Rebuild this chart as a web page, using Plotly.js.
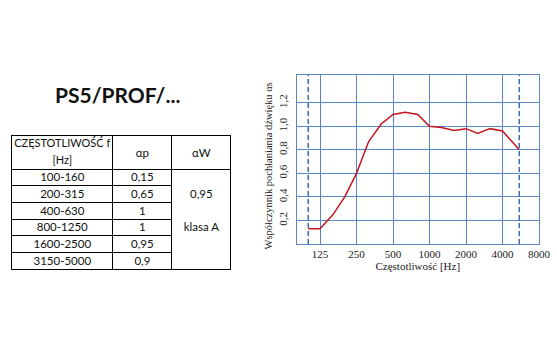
<!DOCTYPE html>
<html>
<head>
<meta charset="utf-8">
<script src="https://cdn.plot.ly/plotly-3.0.1.min.js"></script>
<style>html,body{margin:0;padding:0;background:#fff;}#chart{width:557px;height:352px;}</style>
</head>
<body>
<div id="chart"></div>
<script>
// ---- data ----
const productName = 'PS5/PROF/...';
const bandLabels = ['100-160', '200-315', '400-630', '800-1250', '1600-2500', '3150-5000'];
const alphaP = ['0,15', '0,65', '1', '1', '0,95', '0,9'];
const alphaWColumn = ['', '0,95', '', 'klasa\u00a0A', '', ''];
const headerFreq = ['CZĘSTOTLIWOŚĆ\u00a0f', '[Hz]'];
const headerAlphaP = 'αp';
const headerAlphaW = 'αW';

const freqHz = [100, 125, 160, 200, 250, 315, 400, 500, 630, 800, 1000, 1250, 1600, 2000, 2500, 3150, 4000, 5500];
const absorption = [0.13, 0.13, 0.25, 0.40, 0.60, 0.87, 1.02, 1.10, 1.12, 1.10, 1.00, 0.99, 0.965, 0.98, 0.94, 0.98, 0.96, 0.80];
const xTickVals = [125, 250, 500, 1000, 2000, 4000, 8000];
const xTickText = ['125', '250', '500', '1000', '2000', '4000', '8000'];
const yTickVals = [0.2, 0.4, 0.6, 0.8, 1.0, 1.2];
const yTickText = ['0,2', '0,4', '0,6', '0,8', '1,0', '1,2'];
const measurementLimits = [100, 5500];
const xTitle = 'Częstotliwość [Hz]';
const yTitle = 'Współczynnik pochłaniania dźwięku αs';

// ---- styling ----
const W = 557, H = 352;
const gridBlue = '#5b87c6';
const serif = 'Liberation Serif, Times New Roman, serif';
const sans = 'Lato, Open Sans, sans-serif';
const tableTop = 135, headerH = 34, rowH = 100 / bandLabels.length;
const tableX = [11.7 / W, 231.7 / W];
const dom = (shift) => ({x: tableX, y: [1 - 285 / H, 1 - (tableTop + shift) / H]});
const colW = [101.6, 59.4, 59];
const transparent = 'rgba(0,0,0,0)';
const black = '#000';
const emptyCols = (n) => [Array(n).fill(''), Array(n).fill(''), Array(n).fill('')];
const textFont = {family: sans, size: 11.5, color: '#111'};

// outer frame + column separators + header rule (alphaW column drawn as one merged cell)
const frameTable = {
  type: 'table', domain: dom(0), columnwidth: colW,
  header: {values: emptyCols(1), height: headerH, line: {color: black, width: 1}, fill: {color: '#fff'}},
  cells: {values: emptyCols(1), height: rowH * bandLabels.length, line: {color: black, width: 1}, fill: {color: '#fff'}}
};

// row rules for the first two columns only
const rowRuleTable = {
  type: 'table', domain: dom(0), columnwidth: colW,
  header: {values: emptyCols(1), height: headerH, line: {color: transparent, width: 1}, fill: {color: transparent}},
  cells: {values: emptyCols(bandLabels.length), height: rowH,
    line: {color: [black, black, transparent], width: 1}, fill: {color: transparent}}
};

// body text and two-line frequency header
const bodyTextTable = {
  type: 'table', domain: dom(-4.2), columnwidth: colW,
  header: {values: [headerFreq, ['', ''], ['', '']], height: headerH / 2, align: 'center',
    line: {color: transparent, width: 1}, fill: {color: transparent},
    font: {family: sans, size: 11, color: '#111'}},
  cells: {values: [bandLabels, alphaP, alphaWColumn], height: rowH, align: 'center',
    line: {color: transparent, width: 1}, fill: {color: transparent}, font: textFont}
};

// alpha headers, vertically centred in the tall header row
const alphaHeaderTable = {
  type: 'table', domain: dom(5), columnwidth: colW,
  header: {values: [[''], [headerAlphaP], [headerAlphaW]], height: headerH, align: 'center',
    line: {color: transparent, width: 1}, fill: {color: transparent}, font: textFont},
  cells: {values: emptyCols(1), height: 10, line: {color: transparent, width: 1}, fill: {color: transparent}}
};

const curve = {
  type: 'scatter', mode: 'lines',
  x: freqHz, y: absorption,
  line: {color: '#c3161f', width: 1.5},
  showlegend: false
};

const limitShapes = measurementLimits.map(f => ({
  type: 'line', xref: 'x', yref: 'y domain',
  x0: f, x1: f, y0: 0, y1: 1,
  line: {color: '#3a6ab3', width: 1.5, dash: '5px,3px'}
}));

const layout = {
  width: W, height: H,
  margin: {l: 0, r: 0, t: 0, b: 0},
  paper_bgcolor: '#fff', plot_bgcolor: '#fff',
  showlegend: false,
  xaxis: {
    type: 'log',
    domain: [296.5 / W, 539 / W],
    range: [Math.log10(80), Math.log10(8000)],
    tickvals: xTickVals, ticktext: xTickText,
    ticks: '',
    showgrid: true, gridcolor: gridBlue, gridwidth: 1,
    showline: true, linecolor: gridBlue, linewidth: 1, mirror: true,
    zeroline: false,
    tickfont: {family: serif, size: 11, color: '#222'},
    title: {text: xTitle, font: {family: serif, size: 11, color: '#222'}, standoff: 2}
  },
  yaxis: {
    domain: [1 - 244 / H, 1 - 74.5 / H],
    range: [0, 1.44],
    tickvals: yTickVals, ticktext: yTickText,
    tickangle: -90,
    ticks: '',
    ticklabelstandoff: 4,
    showgrid: true, gridcolor: gridBlue, gridwidth: 1,
    showline: true, linecolor: gridBlue, linewidth: 1, mirror: true,
    zeroline: false,
    tickfont: {family: serif, size: 11, color: '#222'}
  },
  shapes: limitShapes,
  annotations: [
    {
      text: productName, xref: 'paper', yref: 'paper',
      x: 117.4 / W, y: 1 - 94 / H, xanchor: 'center', yanchor: 'middle',
      showarrow: false,
      font: {family: sans, size: 21, color: '#111', weight: 'bold'}
    },
    {
      text: yTitle, xref: 'paper', yref: 'paper',
      x: 268 / W, y: 1 - 166.5 / H, xanchor: 'center', yanchor: 'middle',
      textangle: -90, showarrow: false,
      font: {family: serif, size: 10.5, color: '#222'}
    }
  ]
};

Plotly.newPlot('chart', [frameTable, rowRuleTable, bodyTextTable, alphaHeaderTable, curve], layout,
  {displayModeBar: false, staticPlot: true});
</script>
</body>
</html>
